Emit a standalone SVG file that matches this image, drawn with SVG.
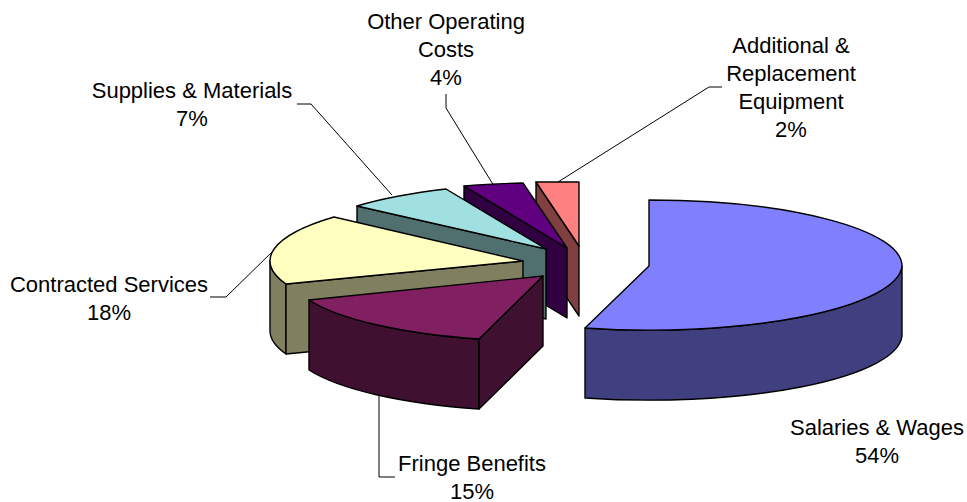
<svg xmlns="http://www.w3.org/2000/svg" width="967" height="502" viewBox="0 0 967 502">
  <style>
    .edge { stroke: #000; stroke-width: 1.4; stroke-linejoin: round; }
    .lbl { font-family: "Liberation Sans", Arial, sans-serif; font-size: 22px; fill: #000; text-anchor: middle; }
    .lead { fill: none; stroke: #000; stroke-width: 1; }
  </style>
  <rect width="967" height="502" fill="#fff"/>

  <!-- Additional & Replacement Equipment (2%) -->
  <g id="slice-equipment">
    <path class="edge" fill="#804040" d="M536,182 L579,246 L579,316 L536,252 Z"/>
    <path class="edge" fill="#FF8080" d="M579,246 L536,182 L579,182 Z"/>
  </g>

  <!-- Other Operating Costs (4%) -->
  <g id="slice-other">
    <path class="edge" fill="#300040" d="M464,186 L567,248 L567,318 L464,256 Z"/>
    <path class="edge" fill="#600080" d="M567,248 L464,186 A253,66 0 0,1 523,183 Z"/>
  </g>

  <!-- Supplies & Materials (7%) -->
  <g id="slice-supplies">
    <path class="edge" fill="#507070" d="M357,206 L546,249 L546,319 L357,276 Z"/>
    <path class="edge" fill="#A0E0E0" d="M546,249 L357,206 A253,66 0 0,1 446,189 Z"/>
  </g>

  <!-- Contracted Services (18%) -->
  <g id="slice-contracted">
    <path class="edge" fill="#808060" d="M286,284 A253,66 0 0,1 270,261 L270,331 A253,66 0 0,0 286,354 Z"/>
    <path class="edge" fill="#808060" d="M286,284 L523,261 L523,331 L286,354 Z"/>
    <path class="edge" fill="#FFFFC0" d="M523,261 L286,284 A253,66 0 0,1 334,217 Z"/>
  </g>

  <!-- Fringe Benefits (15%) -->
  <g id="slice-fringe">
    <path class="edge" fill="#401030" d="M309,300 A253,66 0 0,0 479,339 L479,409 A253,66 0 0,1 309,370 Z"/>
    <path class="edge" fill="#401030" d="M479,339 L543,276 L543,346 L479,409 Z"/>
    <path class="edge" fill="#802060" d="M543,276 L479,339 A253,66 0 0,1 309,300 Z"/>
  </g>

  <!-- Salaries & Wages (54%) -->
  <g id="slice-salaries">
    <path class="edge" fill="#404080" d="M585,328 A253,66 0 0,0 902,266 L902,336 A253,66 0 0,1 585,398 Z"/>
    <path class="edge" fill="#8080FF" d="M649,266 L649,200 A253,66 0 0,1 902,266 A253,66 0 0,1 585,328 Z"/>
  </g>

  <!-- leader lines -->
  <g id="connectors">
    <path class="lead" d="M297,104 L311,104 L392,195"/>
    <path class="lead" d="M446,94 L446,108 L494,186"/>
    <path class="lead" d="M722,87 L709,87 L558,182"/>
    <path class="lead" d="M210,297 L226,297 L272,252"/>
    <path class="lead" d="M379,395 L379,477 L395,477"/>
  </g>

  <!-- labels -->
  <g id="label-supplies">
    <text class="lbl" x="192" y="97.5">Supplies &amp; Materials</text>
    <text class="lbl" x="192" y="125.5">7%</text>
  </g>
  <g id="label-other">
    <text class="lbl" x="446" y="28.5">Other Operating</text>
    <text class="lbl" x="446" y="56.5">Costs</text>
    <text class="lbl" x="446" y="84.5">4%</text>
  </g>
  <g id="label-equipment">
    <text class="lbl" x="791" y="52.5">Additional &amp;</text>
    <text class="lbl" x="791" y="80.5">Replacement</text>
    <text class="lbl" x="791" y="108.5">Equipment</text>
    <text class="lbl" x="791" y="136.5">2%</text>
  </g>
  <g id="label-contracted">
    <text class="lbl" x="109" y="291.5">Contracted Services</text>
    <text class="lbl" x="109" y="319.5">18%</text>
  </g>
  <g id="label-fringe">
    <text class="lbl" x="472" y="470.5">Fringe Benefits</text>
    <text class="lbl" x="472" y="498.5">15%</text>
  </g>
  <g id="label-salaries">
    <text class="lbl" x="877" y="434.5">Salaries &amp; Wages</text>
    <text class="lbl" x="877" y="462.5">54%</text>
  </g>
</svg>
